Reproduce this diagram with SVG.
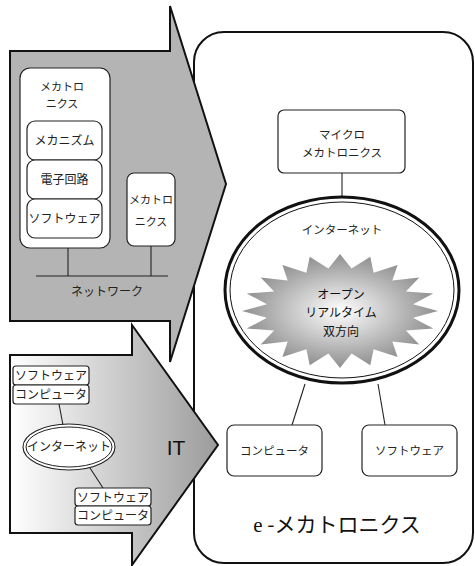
<svg xmlns="http://www.w3.org/2000/svg" width="475" height="566" viewBox="0 0 475 566">
<defs>
<linearGradient id="itg" x1="0" y1="0" x2="1" y2="0">
<stop offset="0" stop-color="#ffffff"/>
<stop offset="1" stop-color="#9c9c9c"/>
</linearGradient>
<radialGradient id="starg" cx="0.5" cy="0.5" r="0.5">
<stop offset="0" stop-color="#ffffff"/>
<stop offset="1" stop-color="#8f8f8f"/>
</radialGradient>
<style>
text{font-family:"Noto Sans CJK JP","Liberation Sans",sans-serif;fill:#222;text-anchor:middle}
.t12{font-size:12px}
.t11{font-size:11.5px}
.t10{font-size:11px}
.box{fill:#fff;stroke:#222;stroke-width:1.2}
.ln{stroke:#222;stroke-width:1.1;fill:none}
</style>
</defs>
<rect id="emecha-frame" x="194" y="32" width="279" height="531" rx="30" fill="#fff" stroke="#111" stroke-width="2"/>
<g id="it-arrow">
<path d="M10,355 H132 V325 L218,445 L132,565 V533 H10 Z" fill="url(#itg)" stroke="#111" stroke-width="2"/>
</g>
<g id="mecha-arrow">
<path d="M10,51 H170 V6 L226,184 L170,362 V321 H10 Z" fill="#b4b4b4" stroke="#111" stroke-width="2"/>
</g>
<g id="connectors">
<line class="ln" x1="68" y1="248" x2="68" y2="276" stroke-width="1.8"/>
<line class="ln" x1="151" y1="246" x2="151" y2="276" stroke-width="1.8"/>
<line class="ln" x1="36" y1="276" x2="168" y2="276" stroke-width="2.2"/>
<line class="ln" x1="59" y1="404" x2="63" y2="425"/>
<line class="ln" x1="90" y1="468" x2="103" y2="488"/>
<line class="ln" x1="342" y1="173" x2="342" y2="197"/>
<line class="ln" x1="305" y1="384" x2="292" y2="425"/>
<line class="ln" x1="378" y1="384" x2="385" y2="425"/>
</g>
<g id="mecha-group">
<rect class="box" x="20" y="68" width="90" height="180" rx="10"/>
<text class="t10" x="62" y="91">メカトロ</text>
<text class="t10" x="62" y="108">ニクス</text>
</g>
<g id="mechanism">
<rect class="box" x="27" y="121" width="75" height="39" rx="8"/>
<text class="t12" x="64.5" y="145">メカニズム</text>
</g>
<g id="electronics">
<rect class="box" x="27" y="160" width="75" height="39" rx="8"/>
<text class="t12" x="64.5" y="184">電子回路</text>
</g>
<g id="software-in">
<rect class="box" x="27" y="199" width="75" height="39" rx="8"/>
<text class="t12" x="64.5" y="223">ソフトウェア</text>
</g>
<g id="mecha-small">
<rect class="box" x="127" y="173" width="48" height="73" rx="7"/>
<text class="t10" x="151" y="204">メカトロ</text>
<text class="t10" x="151" y="226">ニクス</text>
</g>
<g id="network-label">
<text class="t12" x="107" y="296">ネットワーク</text>
</g>
<g id="it-sw1">
<rect class="box" x="13" y="366" width="76" height="19" rx="3"/>
<text class="t12" x="51" y="380">ソフトウェア</text>
</g>
<g id="it-pc1">
<rect class="box" x="13" y="385" width="76" height="19" rx="3"/>
<text class="t12" x="51" y="399">コンピュータ</text>
</g>
<g id="it-internet">
<ellipse cx="69" cy="447" rx="46" ry="23" fill="#fff" stroke="#222" stroke-width="1.1"/>
<ellipse cx="69" cy="447" rx="43" ry="20" fill="none" stroke="#222" stroke-width="1"/>
<text class="t12" x="69" y="451">インターネット</text>
</g>
<g id="it-sw2">
<rect class="box" x="75" y="488" width="76" height="18" rx="3"/>
<text class="t12" x="113" y="502">ソフトウェア</text>
</g>
<g id="it-pc2">
<rect class="box" x="75" y="506" width="76" height="19" rx="3"/>
<text class="t12" x="113" y="520">コンピュータ</text>
</g>
<g id="it-label">
<text x="176" y="455" style="font-family:'Liberation Sans',sans-serif;font-size:21px;fill:#111">IT</text>
</g>
<g id="micro-mecha">
<rect class="box" x="278" y="110" width="127" height="63" rx="6"/>
<text class="t11" x="342" y="139">マイクロ</text>
<text class="t11" x="342" y="157">メカトロニクス</text>
</g>
<g id="internet">
<ellipse cx="342" cy="290" rx="117" ry="93" fill="#fff" stroke="#111" stroke-width="3"/>
<ellipse cx="342" cy="290" rx="112" ry="88" fill="none" stroke="#111" stroke-width="1"/>
<text class="t11" x="342" y="234">インターネット</text>
<polygon fill="url(#starg)" points="340,254 351.6,268.5 370.3,256.8 373.6,272.7 397.6,264.9 392.3,280.6 419.3,277.5 405.9,291.5 433.2,293.4 413.1,304.3 438,311 413.1,317.7 433.2,328.6 405.9,330.5 419.3,344.5 392.3,341.4 397.6,357.1 373.6,349.3 370.3,365.2 351.6,353.5 340,368 328.4,353.5 309.7,365.2 306.4,349.3 282.4,357.1 287.7,341.4 260.7,344.5 274.1,330.5 246.8,328.6 266.9,317.7 242,311 266.9,304.3 246.8,293.4 274.1,291.5 260.7,277.5 287.7,280.6 282.4,264.9 306.4,272.7 309.7,256.8 328.4,268.5"/>
<text class="t12" x="341" y="299" style="fill:#111">オープン</text>
<text class="t12" x="341" y="317" style="fill:#111">リアルタイム</text>
<text class="t12" x="341" y="336" style="fill:#111">双方向</text>
</g>
<g id="computer">
<rect class="box" x="227" y="425" width="95" height="51" rx="7"/>
<text class="t11" x="274.5" y="455">コンピュータ</text>
</g>
<g id="software">
<rect class="box" x="362" y="425" width="95" height="51" rx="7"/>
<text class="t11" x="409.5" y="455">ソフトウェア</text>
</g>
<g id="title">
<text x="337" y="532" style="font-size:21px;fill:#111"><tspan style="font-family:'Liberation Serif',serif">e</tspan> -メカトロニクス</text>
</g>
</svg>
